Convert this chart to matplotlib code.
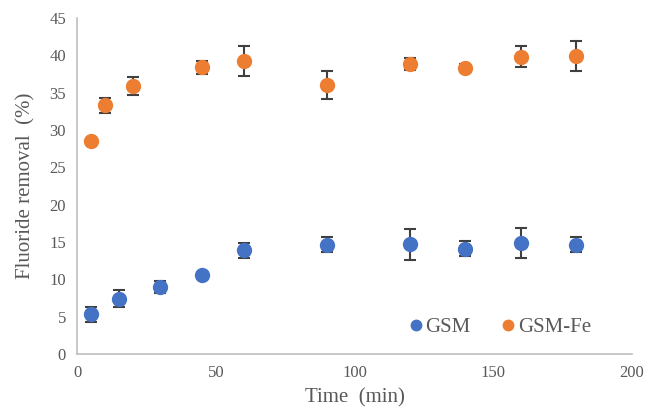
import matplotlib.pyplot as plt
import numpy as np

plt.rcParams['font.family'] = ['Liberation Serif', 'DejaVu Serif']

# GSM
t_gsm = [5, 15, 30, 45, 60, 90, 120, 140, 160, 180]
gsm = [5.3, 7.4, 8.9, 10.6, 13.9, 14.6, 14.7, 14.1, 14.9, 14.6]
gsm_err = [1.0, 1.1, 0.8, 0.2, 1.0, 1.0, 2.1, 1.0, 2.0, 1.0]

# GSM-Fe
t_fe = [5, 10, 20, 45, 60, 90, 120, 140, 160, 180]
gsm_fe = [28.5, 33.3, 35.9, 38.4, 39.3, 36.0, 38.9, 38.3, 39.8, 39.9]
gsm_fe_err = [0.3, 1.0, 1.2, 0.9, 2.0, 1.9, 0.8, 0.5, 1.4, 2.0]

fig = plt.figure(figsize=(6.48, 4.11), dpi=100)
ax = fig.add_axes([0.119, 0.139, 0.856, 0.817])

for t, y, e, c, lab in [(t_gsm, gsm, gsm_err, '#4472C4', 'GSM'),
                        (t_fe, gsm_fe, gsm_fe_err, '#ED7D31', 'GSM-Fe')]:
    ax.errorbar(t, y, yerr=e, fmt='none', ecolor='#404040', elinewidth=1.5,
                capsize=4.5, capthick=1.5, zorder=2)
    ax.plot(t, y, 'o', color=c, markersize=10, label=lab, zorder=3)

ax.set_xlim(0, 200)
ax.set_ylim(0, 45)
ax.set_xticks(np.arange(0, 201, 50))
ax.set_yticks(np.arange(0, 46, 5))
ax.tick_params(length=0, labelsize=12, labelcolor='#595959', pad=8)
for s in ['top', 'right']:
    ax.spines[s].set_visible(False)
for s in ['left', 'bottom']:
    ax.spines[s].set_color('#BFBFBF')
    ax.spines[s].set_linewidth(1.2)

ax.set_xlabel('Time  (min)', fontsize=15, color='#595959', labelpad=5)
ax.set_ylabel('Fluoride removal  (%)', fontsize=15, color='#595959', labelpad=10)

ax.legend(loc='lower right', bbox_to_anchor=(0.96, -0.005), ncol=2, frameon=False,
          fontsize=15, handlelength=0.6, handletextpad=0.15, columnspacing=1.5,
          markerscale=0.75, labelcolor='#595959')

fig.savefig('out.png', dpi=100)
